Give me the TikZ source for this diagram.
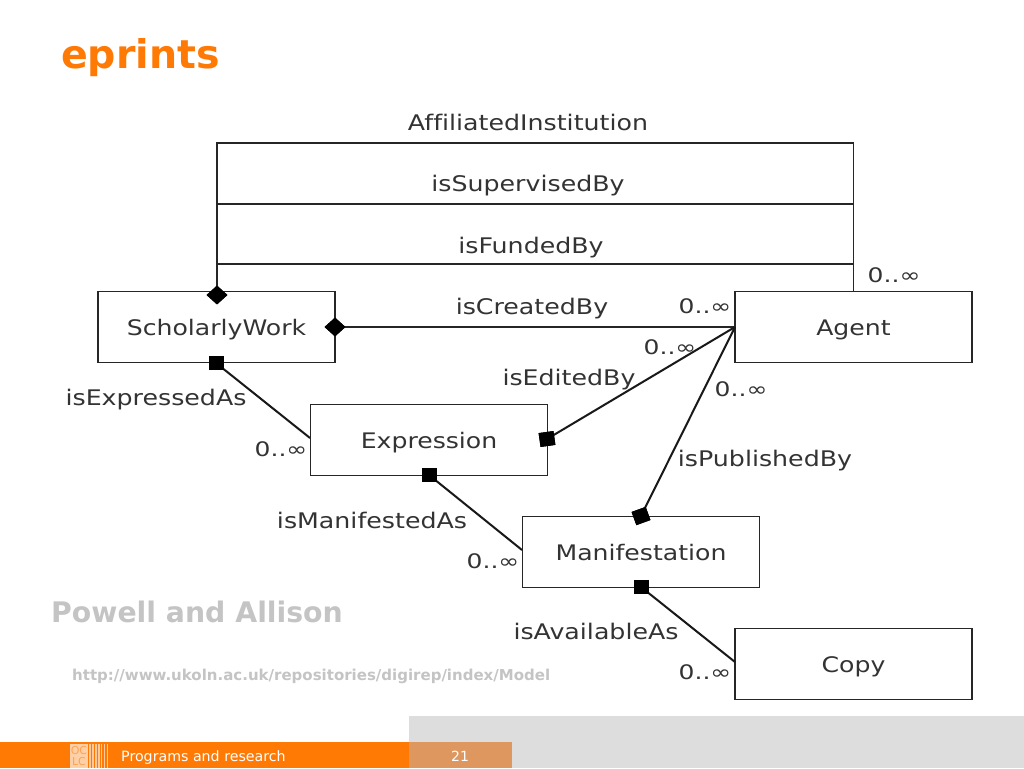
\documentclass[tikz,border=0pt]{standalone}
\usepackage{fontspec}
\setmainfont{DejaVu Sans}
\newfontfamily\widefont[FakeStretch=1.175,Ligatures=NoCommon]{DejaVu Sans}
\newfontfamily\cardfont[FakeStretch=1.25,Ligatures=NoCommon]{DejaVu Sans}
\usetikzlibrary{shapes.geometric}
\definecolor{orangeB}{HTML}{FF7A05}
\definecolor{numB}{HTML}{DE975F}
\definecolor{greyB}{HTML}{DDDDDD}
\definecolor{subG}{HTML}{C4C4C4}
\definecolor{inkT}{HTML}{333333}
\tikzset{
 x=1pt,y=-1pt,
 cls/.style={draw=black!85,line width=1.5pt,fill=white,minimum width=237pt,minimum height=71pt,inner sep=0pt,text=inkT,text height=17pt,text depth=0pt,font=\widefont\fontsize{21.4}{24}\selectfont},
 lbl/.style={inner sep=0pt,text=inkT,text height=14pt,text depth=0pt,font=\widefont\fontsize{21.5}{24}\selectfont},
 card/.style={inner sep=0pt,text=inkT,font=\cardfont\fontsize{20}{22}\selectfont},
 link/.style={draw=black!85,line width=1.5pt},
 slink/.style={draw=black!90,line width=2pt},
 dia/.style={diamond,fill=black,inner sep=0pt,minimum width=21pt,minimum height=19pt},
 sq/.style={rectangle,fill=black,inner sep=0pt,minimum width=15pt,minimum height=14pt},
}
\begin{document}
\begin{tikzpicture}
\useasboundingbox (0,0) rectangle (1024,768);
\fill[white] (0,0) rectangle (1024,768);
% slide furniture
\fill[greyB] (409,716) rectangle (1024,768);
\fill[orangeB] (0,742) rectangle (409,768);
\fill[numB] (409,742) rectangle (512,768);
\node[anchor=west,inner sep=0pt,text=orangeB,font=\bfseries\fontsize{39.5}{44}\selectfont] (title) at (61,58) {eprints};
\node[anchor=west,inner sep=0pt,text=subG,font=\bfseries\fontsize{28.3}{32}\selectfont] (auth) at (51,612) {Powell and Allison};
\node[anchor=west,inner sep=0pt,text=subG,font=\bfseries\fontsize{15}{18}\selectfont] (url) at (72,676) {http://www.ukoln.ac.uk/repositories/digirep/index/Model};
\node[anchor=west,inner sep=0pt,text=white,font=\fontsize{14.2}{16}\selectfont] (foot) at (121,757.5) {Programs and research};
\node[inner sep=0pt,text=white,font=\fontsize{14}{16}\selectfont] (pg) at (460,756) {21};
% logo
\fill[white,opacity=.65] (70,744) rectangle (88,768);
\foreach \lx/\lw in {89/2,92/2,95/1.5,98/1.5,101/1,104/1,107/.7}{\fill[white,opacity=.6] (\lx,744) rectangle ++(\lw,24);}
\node[inner sep=0pt,text=orangeB!70!white,font=\fontsize{11}{11}\selectfont] (oc) at (79,750) {OC};
\node[inner sep=0pt,text=orangeB!70!white,font=\fontsize{11}{11}\selectfont] (lc) at (79,761) {LC};
% classes
\node[cls] (sw) at (216.5,327) {ScholarlyWork};
\node[cls] (ag) at (853.5,327) {Agent};
\node[cls] (ex) at (429,440) {Expression};
\node[cls] (ma) at (641,552) {Manifestation};
\node[cls] (co) at (853.5,664) {Copy};
% anchor points
\coordinate (top3) at (217,143);
\coordinate (top2) at (217,204);
\coordinate (top1) at (217,264);
\coordinate (rt3) at (853.5,143);
\coordinate (rt2) at (853.5,204);
\coordinate (rt1) at (853.5,264);
\coordinate (agl) at (735,327);
\coordinate (exl) at (310,438);
\coordinate (mal) at (522,550);
\coordinate (col) at (735,662);
% markers
\node[dia] (d1) at (217,295) {};
\node[dia] (d2) at (335,327) {};
\node[sq] (s1) at (216,363) {};
\node[sq,rotate=8] (s2) at (547,439) {};
\node[sq] (s3) at (429,475) {};
\node[sq,rotate=20] (d3) at (641,516) {};
\node[sq] (s4) at (641,587) {};
% connectors
\draw[link] (d1.center) -- (top3) -- (rt3) -- (ag.north);
\draw[link] (top2) -- (rt2);
\draw[link] (top1) -- (rt1);
\draw[link] (d2.center) -- (agl);
\draw[slink] (s1.center) -- (exl);
\draw[slink] (s2.center) -- (agl);
\draw[slink] (d3.center) -- (agl);
\draw[slink] (s3.center) -- (mal);
\draw[slink] (s4.center) -- (col);
\node[dia] at (d1) {};
\node[dia] at (d2) {};
\node[sq] at (s1) {};
\node[sq,rotate=8] at (s2) {};
\node[sq] at (s3) {};
\node[sq,rotate=20] at (d3) {};
\node[sq] at (s4) {};
% labels
\node[lbl] (l1) at (528,123) {AffiliatedInstitution};
\node[lbl] (l2) at (528,184) {isSupervisedBy};
\node[lbl] (l3) at (531,246) {isFundedBy};
\node[lbl] (l4) at (532,307) {isCreatedBy};
\node[lbl] (l5) at (569,378) {isEditedBy};
\node[lbl] (l6) at (156,398) {isExpressedAs};
\node[lbl] (l7) at (765,459) {isPublishedBy};
\node[lbl] (l8) at (372,521) {isManifestedAs};
\node[lbl] (l9) at (596,632) {isAvailableAs};
% cardinalities
\node[card] (c1) at (894,275) {0..∞};
\node[card] (c2) at (705,306) {0..∞};
\node[card] (c3) at (670,347) {0..∞};
\node[card] (c4) at (741,389) {0..∞};
\node[card] (c5) at (281,449) {0..∞};
\node[card] (c6) at (493,561) {0..∞};
\node[card] (c7) at (705,672) {0..∞};
\end{tikzpicture}
\end{document}
